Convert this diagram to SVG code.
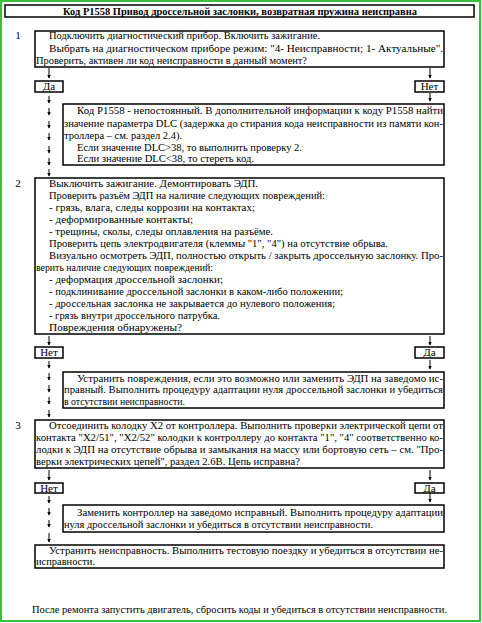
<svg xmlns="http://www.w3.org/2000/svg" width="482" height="623" viewBox="0 0 482 623">
<defs>
<marker id="ah" markerWidth="4" markerHeight="4" refX="3.5" refY="2" orient="auto" markerUnits="userSpaceOnUse" viewBox="0 0 4 4">
<path d="M0,0 L4,2 L0,4 Z" fill="#000"/>
</marker>
<style>
.t{font-family:"Liberation Serif","Times New Roman",serif;font-size:11px;fill:#000}
.tb{font-family:"Liberation Serif","Times New Roman",serif;font-size:11px;font-weight:bold;fill:#000}
.box{fill:#fff;stroke:#000;stroke-width:1.5}
.a{stroke:#000;stroke-width:1;marker-end:url(#ah)}
.c{text-anchor:middle}
</style>
</defs>
<rect x="0" y="0" width="482" height="623" fill="#fff"/>
<rect x="1" y="1" width="479" height="620" fill="none" stroke="#3cbf3c" stroke-width="2"/>

<g id="title">
<rect class="box" x="5" y="5" width="469" height="12"/>
<text class="tb c" x="240" y="15" textLength="354" lengthAdjust="spacingAndGlyphs">Код P1558 Привод дроссельной заслонки, возвратная пружина неисправна</text>
</g>

<g id="connectors">
<line class="a" x1="49" y1="68" x2="49" y2="78"/>
<line class="a" x1="430" y1="68" x2="430" y2="78"/>
<line class="a" x1="430" y1="93" x2="430" y2="101"/>
<line class="a" x1="49" y1="96" x2="49" y2="103"/>
<line class="a" x1="49" y1="108" x2="49" y2="115"/>
<line class="a" x1="49" y1="121" x2="49" y2="128"/>
<line class="a" x1="49" y1="133" x2="49" y2="140"/>
<line class="a" x1="49" y1="146" x2="49" y2="153"/>
<line class="a" x1="49" y1="158" x2="49" y2="165"/>
<line class="a" x1="49" y1="169" x2="49" y2="176"/>
<line class="a" x1="49" y1="336" x2="49" y2="345"/>
<line class="a" x1="430" y1="336" x2="430" y2="345"/>
<line class="a" x1="430" y1="360" x2="430" y2="369"/>
<line class="a" x1="49" y1="361" x2="49" y2="368"/>
<line class="a" x1="49" y1="373" x2="49" y2="380"/>
<line class="a" x1="49" y1="385" x2="49" y2="392"/>
<line class="a" x1="49" y1="397" x2="49" y2="404"/>
<line class="a" x1="49" y1="410" x2="49" y2="417"/>
<line class="a" x1="49" y1="470" x2="49" y2="480"/>
<line class="a" x1="430" y1="470" x2="430" y2="480"/>
<line class="a" x1="430" y1="494" x2="430" y2="502"/>
<line class="a" x1="49" y1="496" x2="49" y2="503"/>
<line class="a" x1="49" y1="508" x2="49" y2="515"/>
<line class="a" x1="49" y1="520" x2="49" y2="527"/>
<line class="a" x1="49" y1="533" x2="49" y2="542"/>
</g>

<g id="step1">
<text class="t c" x="18" y="38.5">1</text>
<rect class="box" x="35" y="31" width="409" height="36"/>
<text class="t" x="49" y="38.5" textLength="271" lengthAdjust="spacingAndGlyphs">Подключить диагностический прибор. Включить зажигание.</text>
<text class="t" x="49" y="52" textLength="394" lengthAdjust="spacingAndGlyphs">Выбрать на диагностическом приборе режим: "4- Неисправности; 1- Актуальные".</text>
<text class="t" x="36" y="64" textLength="271" lengthAdjust="spacingAndGlyphs">Проверить, активен ли код неисправности в данный момент?</text>
</g>

<g id="yes1">
<rect class="box" x="35" y="81" width="28" height="11"/>
<text class="t c" x="49" y="90">Да</text>
</g>
<g id="no1">
<rect class="box" x="415" y="81" width="29" height="11"/>
<text class="t c" x="429.5" y="90">Нет</text>
</g>

<g id="dlc">
<rect class="box" x="63" y="104" width="381" height="61"/>
<text class="t" x="77" y="114" textLength="366" lengthAdjust="spacingAndGlyphs">Код P1558 - непостоянный. В дополнительной информации к коду P1558 найти</text>
<text class="t" x="64" y="126.5" textLength="379" lengthAdjust="spacingAndGlyphs">значение параметра DLC (задержка до стирания кода неисправности из памяти кон-</text>
<text class="t" x="64" y="138.5" textLength="118" lengthAdjust="spacingAndGlyphs">троллера – см. раздел 2.4).</text>
<text class="t" x="77" y="150.5" textLength="225" lengthAdjust="spacingAndGlyphs">Если значение DLC&gt;38, то выполнить проверку 2.</text>
<text class="t" x="77" y="162" textLength="177" lengthAdjust="spacingAndGlyphs">Если значение DLC&lt;38, то стереть код.</text>
</g>

<g id="step2">
<text class="t c" x="18" y="187">2</text>
<rect class="box" x="35" y="178" width="409" height="156"/>
<text class="t" x="49" y="187" textLength="209" lengthAdjust="spacingAndGlyphs">Выключить зажигание. Демонтировать ЭДП.</text>
<text class="t" x="49" y="199" textLength="276" lengthAdjust="spacingAndGlyphs">Проверить разъём ЭДП на наличие следующих повреждений:</text>
<text class="t" x="49" y="211" textLength="206" lengthAdjust="spacingAndGlyphs">- грязь, влага, следы коррозии на контактах;</text>
<text class="t" x="49" y="223" textLength="144" lengthAdjust="spacingAndGlyphs">- деформированные контакты;</text>
<text class="t" x="49" y="235" textLength="224" lengthAdjust="spacingAndGlyphs">- трещины, сколы, следы оплавления на разъёме.</text>
<text class="t" x="49" y="247" textLength="339" lengthAdjust="spacingAndGlyphs">Проверить цепь электродвигателя (клеммы "1", "4") на отсутствие обрыва.</text>
<text class="t" x="49" y="259" textLength="394" lengthAdjust="spacingAndGlyphs">Визуально осмотреть ЭДП, полностью открыть / закрыть дроссельную заслонку. Про-</text>
<text class="t" x="36" y="271" textLength="177" lengthAdjust="spacingAndGlyphs">верить наличие следующих повреждений:</text>
<text class="t" x="49" y="283" textLength="174" lengthAdjust="spacingAndGlyphs">- деформация дроссельной заслонки;</text>
<text class="t" x="49" y="295" textLength="294" lengthAdjust="spacingAndGlyphs">- подклинивание дроссельной заслонки в каком-либо положении;</text>
<text class="t" x="49" y="307" textLength="286" lengthAdjust="spacingAndGlyphs">- дроссельная заслонка не закрывается до нулевого положения;</text>
<text class="t" x="49" y="319" textLength="171" lengthAdjust="spacingAndGlyphs">- грязь внутри дроссельного патрубка.</text>
<text class="t" x="49" y="331" textLength="133" lengthAdjust="spacingAndGlyphs">Повреждения обнаружены?</text>
</g>

<g id="no2">
<rect class="box" x="35" y="347" width="28" height="11"/>
<text class="t c" x="49" y="355.5">Нет</text>
</g>
<g id="yes2">
<rect class="box" x="415" y="347" width="29" height="11"/>
<text class="t c" x="429.5" y="355.5">Да</text>
</g>

<g id="repair">
<rect class="box" x="63" y="372" width="381" height="36"/>
<text class="t" x="77" y="381.5" textLength="366" lengthAdjust="spacingAndGlyphs">Устранить повреждения, если это возможно или заменить ЭДП на заведомо ис-</text>
<text class="t" x="64" y="393" textLength="379" lengthAdjust="spacingAndGlyphs">правный. Выполнить процедуру адаптации нуля дроссельной заслонки и убедиться</text>
<text class="t" x="64" y="404.5" textLength="121" lengthAdjust="spacingAndGlyphs">в отсутствии неисправности.</text>
</g>

<g id="step3">
<text class="t c" x="18" y="429">3</text>
<rect class="box" x="35" y="420" width="409" height="48"/>
<text class="t" x="49" y="429" textLength="394" lengthAdjust="spacingAndGlyphs">Отсоединить колодку X2 от контроллера. Выполнить проверки электрической цепи от</text>
<text class="t" x="36" y="441" textLength="407" lengthAdjust="spacingAndGlyphs">контакта "X2/51", "X2/52" колодки к контроллеру до контакта "1", "4" соответственно ко-</text>
<text class="t" x="36" y="453" textLength="407" lengthAdjust="spacingAndGlyphs">лодки к ЭДП на отсутствие обрыва и замыкания на массу или бортовую сеть – см. "Про-</text>
<text class="t" x="36" y="464.5" textLength="264" lengthAdjust="spacingAndGlyphs">верки электрических цепей", раздел 2.6В. Цепь исправна?</text>
</g>

<g id="no3">
<rect class="box" x="35" y="483" width="28" height="10"/>
<text class="t c" x="49" y="491.5">Нет</text>
</g>
<g id="yes3">
<rect class="box" x="415" y="483" width="29" height="10"/>
<text class="t c" x="429.5" y="491.5">Да</text>
</g>

<g id="replace">
<rect class="box" x="63" y="505" width="381" height="27"/>
<text class="t" x="77" y="516" textLength="366" lengthAdjust="spacingAndGlyphs">Заменить контроллер на заведомо исправный. Выполнить процедуру адаптации</text>
<text class="t" x="64" y="528" textLength="309" lengthAdjust="spacingAndGlyphs">нуля дроссельной заслонки и убедиться в отсутствии неисправности.</text>
</g>

<g id="fix">
<rect class="box" x="35" y="545" width="409" height="23"/>
<text class="t" x="49" y="553.5" textLength="394" lengthAdjust="spacingAndGlyphs">Устранить неисправность. Выполнить тестовую поездку и убедиться в отсутствии не-</text>
<text class="t" x="36" y="565" textLength="59" lengthAdjust="spacingAndGlyphs">исправности.</text>
</g>

<g id="footer">
<text class="t c" x="239.5" y="613" textLength="415" lengthAdjust="spacingAndGlyphs">После ремонта запустить двигатель, сбросить коды и убедиться в отсутствии неисправности.</text>
</g>
</svg>
